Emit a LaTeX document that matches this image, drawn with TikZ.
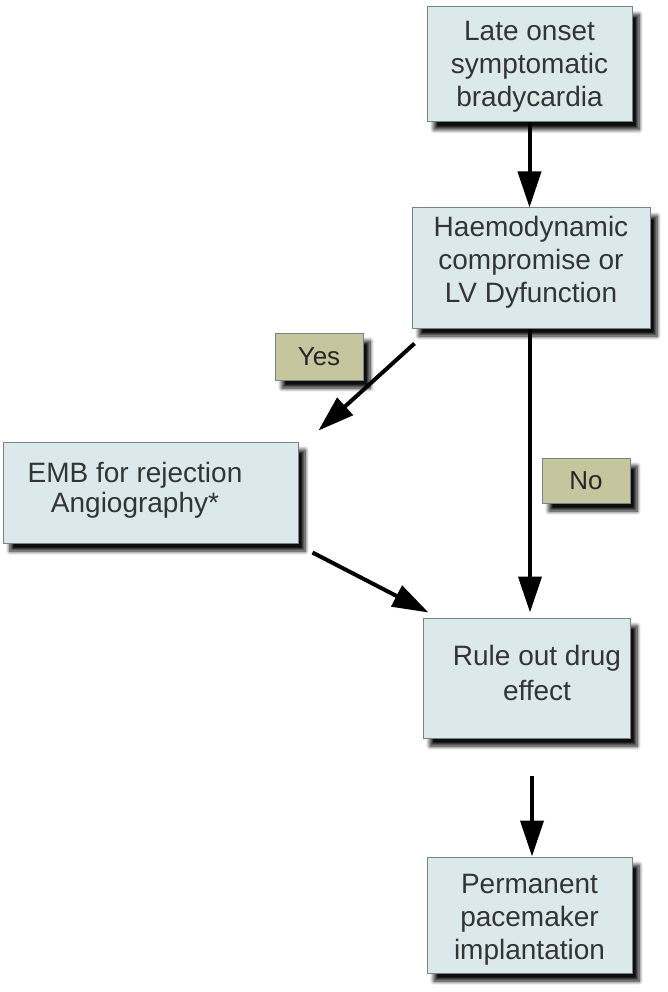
\documentclass[tikz,border=0pt]{standalone}
\usepackage{fontspec}
\setmainfont{Liberation Sans}
\usetikzlibrary{arrows.meta,shadows.blur}

\definecolor{boxfill}{RGB}{220,233,235}
\definecolor{boxline}{RGB}{118,132,138}
\definecolor{tagfill}{RGB}{197,197,158}
\definecolor{inkgray}{RGB}{52,52,52}

\tikzset{
  box/.style={draw=boxline, line width=1pt, fill=boxfill, text=inkgray,
    align=center, inner sep=0pt,
    font=\fontsize{28}{33}\selectfont,
    blur shadow={shadow xshift=7pt, shadow yshift=-8pt, shadow blur steps=8,
      shadow blur radius=4pt, shadow opacity=95}},
  boxtext/.style={text=inkgray, align=center, font=\fontsize{28}{33}\selectfont},
  tag/.style={box, fill=tagfill, text=black!85, font=\fontsize{26}{30}\selectfont},
  flow/.style={line width=4pt, -{Triangle[length=36pt,width=23pt]}}
}

\begin{document}
\begin{tikzpicture}[x=1pt,y=-1pt]
  \useasboundingbox (0,0) rectangle (667,992);

  \node[box, minimum width=205pt, minimum height=115pt] (onset) at (529.5,64) {};
  \node[boxtext, yshift=-3pt] at (onset.center) {Late onset\\symptomatic\\bradycardia};

  \node[box, minimum width=238pt, minimum height=120pt] (haemo) at (531,268) {};
  \node[boxtext, yshift=6pt] at (haemo.center) {Haemodynamic\\compromise or\\LV Dyfunction};

  \node[box, minimum width=295pt, minimum height=101pt] (emb) at (150.5,492.5) {};
  \node[boxtext, font=\fontsize{28}{30}\selectfont] at (135,490) {EMB for rejection\\Angiography*};

  \node[box, minimum width=207pt, minimum height=120pt] (rule) at (526.5,678) {};
  \node[boxtext, font=\fontsize{28}{35}\selectfont] at (537,673) {Rule out drug\\effect};

  \node[box, minimum width=205pt, minimum height=116pt] (perm) at (529.5,915) {};
  \node[boxtext, yshift=-5pt] at (perm.center) {Permanent\\pacemaker\\implantation};

  \node[tag, minimum width=88pt, minimum height=47pt] (yes) at (319,356.5) {Yes};
  \node[tag, minimum width=88pt, minimum height=45pt] (no) at (586,480.5) {No};

  % Pfeile
  \coordinate (yesfrom) at ([shift={(3,15)}]haemo.south west);
  \coordinate (yesto) at ([shift={(20,-11)}]emb.north east);
  \coordinate (embfrom) at ([shift={(14,9)}]emb.south east);
  \coordinate (ruleto) at ([shift={(6,-5)}]rule.north west);
  \coordinate (permfrom) at ([shift={(5.5,37)}]rule.south);

  \draw[flow] (onset.south) -- (onset.south |- haemo.north);
  \draw[flow] (yesfrom) -- (yesto);
  \draw[flow, shorten >=5pt] ([xshift=-1pt]haemo.south) -- ([xshift=-1pt]haemo.south |- rule.north);
  \draw[flow] (embfrom) -- (ruleto);
  \draw[flow] (permfrom) -- (perm.north -| permfrom);
\end{tikzpicture}
\end{document}
